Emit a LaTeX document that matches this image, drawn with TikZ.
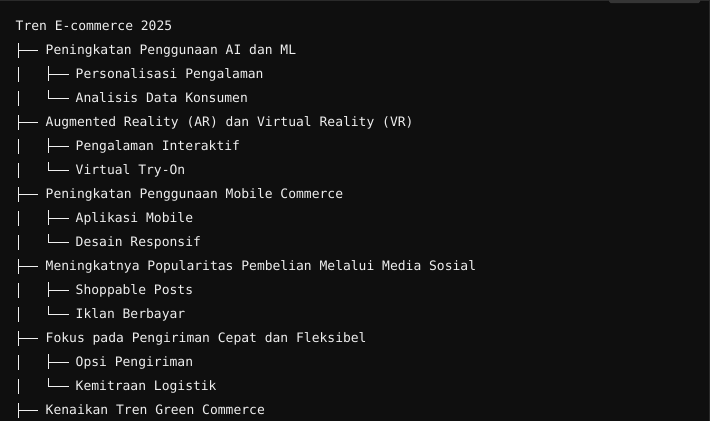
\documentclass[tikz,border=0pt]{standalone}
\usepackage{fontspec}
\newfontfamily\codefont{DejaVu Sans Mono}
\definecolor{bg}{HTML}{0F0F0F}
\definecolor{fg}{HTML}{EFEFEF}
\definecolor{edgec}{HTML}{2A2A2A}
\definecolor{tabc}{HTML}{353535}
\begin{document}
\begin{tikzpicture}[x=1pt,y=-1pt,
  txt/.style={anchor=base west, inner sep=0pt, text=fg,
    font=\codefont\fontsize{13pt}{15pt}\selectfont,
    text height=11pt, text depth=3pt},
  trunk/.style={draw=fg, line width=1pt, dash pattern=on 15pt off 9pt},
  stubA/.style={draw=fg, line width=1pt, shorten >=7.2pt},
  stubB/.style={draw=fg, line width=1pt, shorten >=6.2pt}]
\fill[bg] (0,0) rectangle (710,421);
\useasboundingbox (0,0) rectangle (710,421);
\fill[edgec] (0,0) rectangle (710,1.2);
\fill[tabc, rounded corners=1.5pt] (609,-2) rectangle (700,3);
\fill[edgec] (708.6,0) rectangle (710,421);

\node[txt] (root) at (15.5,30.3) {Tren E-commerce 2025};
\node[txt] (a)  at (45.5,54.3)  {Peningkatan Penggunaan AI dan ML};
\node[txt] (a1) at (75.5,78.3)  {Personalisasi Pengalaman};
\node[txt] (a2) at (75.5,102.3) {Analisis Data Konsumen};
\node[txt] (b)  at (45.5,126.3) {Augmented Reality (AR) dan Virtual Reality (VR)};
\node[txt] (b1) at (75.5,150.3) {Pengalaman Interaktif};
\node[txt] (b2) at (75.5,174.3) {Virtual Try-On};
\node[txt] (c)  at (45.5,198.3) {Peningkatan Penggunaan Mobile Commerce};
\node[txt] (c1) at (75.5,222.3) {Aplikasi Mobile};
\node[txt] (c2) at (75.5,246.3) {Desain Responsif};
\node[txt] (d)  at (45.5,270.3) {Meningkatnya Popularitas Pembelian Melalui Media Sosial};
\node[txt] (d1) at (75.5,294.3) {Shoppable Posts};
\node[txt] (d2) at (75.5,318.3) {Iklan Berbayar};
\node[txt] (e)  at (45.5,342.3) {Fokus pada Pengiriman Cepat dan Fleksibel};
\node[txt] (e1) at (75.5,366.3) {Opsi Pengiriman};
\node[txt] (e2) at (75.5,390.3) {Kemitraan Logistik};
\node[txt] (f)  at (45.5,414.3) {Kenaikan Tren Green Commerce};

% level-1 trunk
\coordinate (t0) at (18,43.3);
\coordinate (t0e) at (18,418.3);
\draw[trunk] (t0) -- (t0e);
\foreach \n in {a,b,c,d,e,f}{\draw[stubA] (t0 |- \n.west) -- (\n.west);}

% level-2 trunks
\coordinate (ta) at (48.3,66);
\coordinate (tb) at (48.3,138);
\coordinate (tc) at (48.3,210);
\coordinate (td) at (48.3,282);
\coordinate (te) at (48.3,354);
\foreach \p in {a,b,c,d,e}{
  \draw[trunk] (t\p) -- (t\p |- \p2.west);
  \draw[stubB] (t\p |- \p1.west) -- (\p1.west);
  \draw[stubB] (t\p |- \p2.west) -- (\p2.west);
}
\end{tikzpicture}
\end{document}
